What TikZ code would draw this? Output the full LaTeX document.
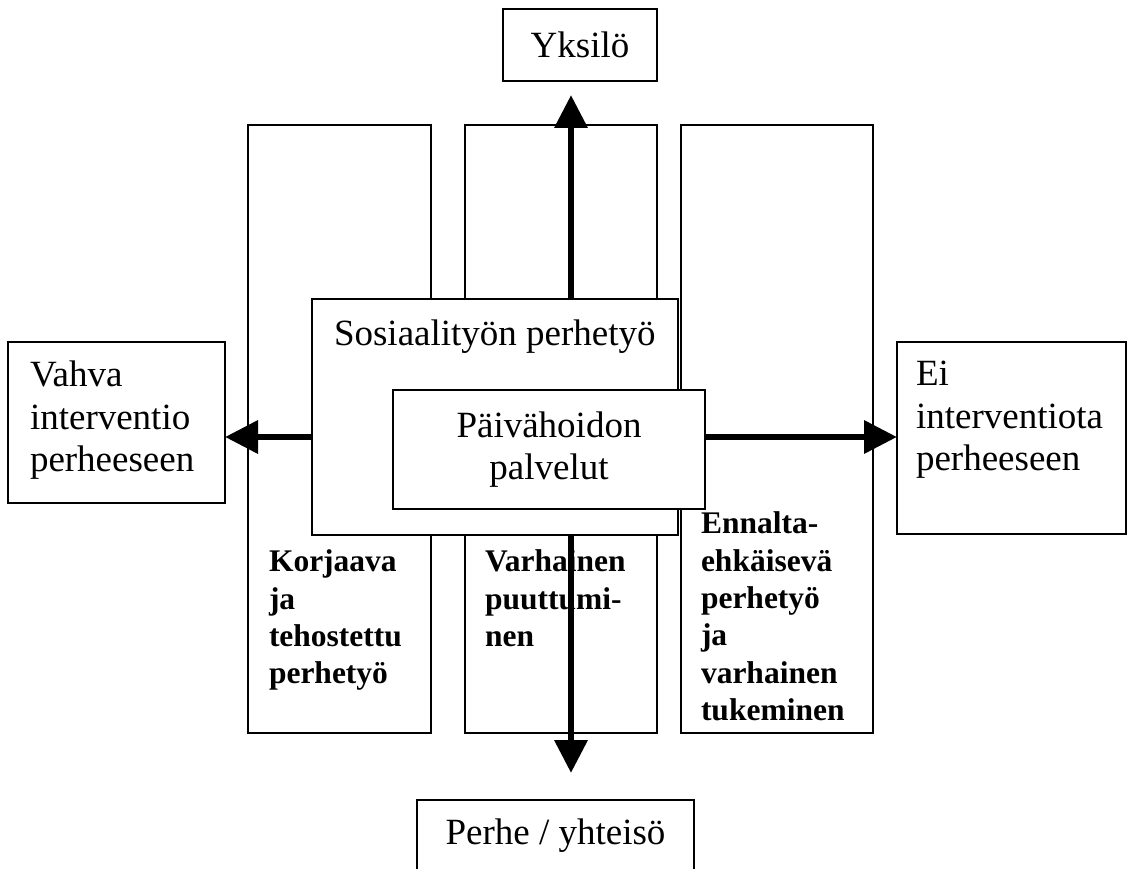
\documentclass[tikz,border=0pt]{standalone}
\usepackage{fontspec}
\setmainfont{Liberation Serif}
\usetikzlibrary{arrows.meta, positioning}

\begin{document}
\begin{tikzpicture}[x=1pt, y=-1pt, inner sep=0pt, outer sep=0pt,
    every node/.style={font=\fontsize{37}{42.5}\selectfont}]
  \tikzstyle{boxA}=[draw, line width=1.3pt, fill=white, anchor=north west]
  \tikzstyle{textA}=[align=left, anchor=north west]
  \tikzstyle{textB}=[align=left, anchor=north west, font=\bfseries\fontsize{31.5}{37.3}\selectfont]
  \tikzstyle{bigarrow}=[line width=6.7pt, -{Triangle[length=33pt, width=32pt]}]
  \useasboundingbox (0,0) rectangle (1127,869);
  % Columns
  \node[boxA, minimum width=183pt, minimum height=608pt] (colL) at (248,125) {};
  \node[boxA, minimum width=192pt, minimum height=608pt, right=34pt of colL] (colM) {};
  \node[boxA, minimum width=192pt, minimum height=608pt, right=24pt of colM] (colR) {};
  % Middle boxes
  \node[boxA, minimum width=366pt, minimum height=236pt] (sos) at (312,299) {};
  \node[boxA, minimum width=312pt, minimum height=119pt, align=center] (pai) at (393,390) {Päivähoidon\\palvelut};
  % Outer boxes
  \node[boxA, minimum width=154pt, minimum height=72pt] (yks) at (503,9) {Yksilö};
  \node[boxA, minimum width=217pt, minimum height=161pt] (vah) at (8,342) {};
  \node[boxA, minimum width=229pt, minimum height=192pt] (ei) at (897,342) {};
  \node[boxA, minimum width=277pt, minimum height=72pt] (per) at (417,800) {Perhe / yhteisö};
  % Texts
  \node[anchor=base west] (sosT) at (334,345) {Sosiaalityön perhetyö};
  \node[textA] (vahT) at (30,361) {Vahva\\interventio\\perheeseen};
  \node[textA] (eiT) at (916,361) {Ei\\interventiota\\perheeseen};
  \node[textB] (korT) at (269,550) {Korjaava\\ja\\tehostettu\\perhetyö};
  \node[textB] (varT) at (485,550) {Varhainen\\puuttumi-\\nen};
  \node[textB] (ennT) at (701,512) {Ennalta-\\ehkäisevä\\perhetyö\\ja\\varhainen\\tukeminen};
  % Arrows
  \coordinate (ax) at (571,437);
  \draw[bigarrow, shorten >=14pt] (sos.north -| ax) -- (yks.south -| ax);
  \draw[bigarrow, shorten >=27pt] (sos.south -| ax) -- (per.north -| ax);
  \draw[bigarrow] (sos.west |- ax) -- (vah.east |- ax);
  \draw[bigarrow] (pai.east |- ax) -- (ei.west |- ax);
\end{tikzpicture}
\end{document}
